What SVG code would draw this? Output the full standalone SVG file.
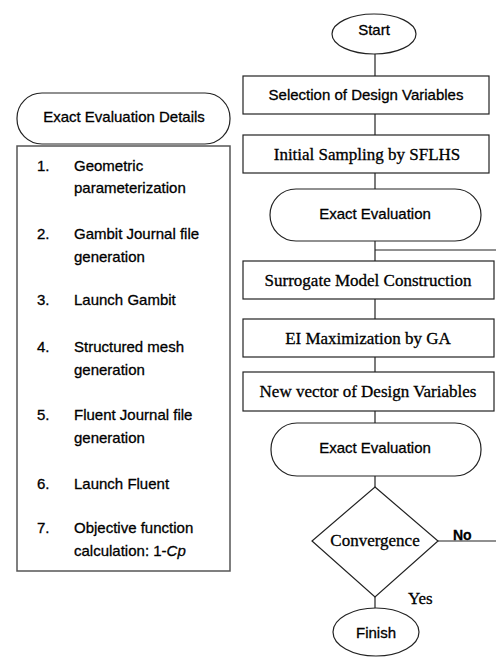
<svg xmlns="http://www.w3.org/2000/svg" width="496" height="658" viewBox="0 0 496 658">
<style>
.s{fill:#fff;stroke:#222;stroke-width:1.2}
.l{fill:none;stroke:#222;stroke-width:1.2}
.sans{font-family:"Liberation Sans",Arial,sans-serif;font-size:15px;fill:#000;stroke:#000;stroke-width:0.3}
.serif{font-family:"Liberation Serif","Times New Roman",serif;font-size:17px;fill:#000;stroke:#000;stroke-width:0.3}
.c{text-anchor:middle}
</style>
<rect width="496" height="658" fill="#fff"/>
<g id="connectors">
<line class="l" x1="375" y1="54" x2="375" y2="76"/>
<line class="l" x1="375" y1="114" x2="375" y2="135"/>
<line class="l" x1="375" y1="173" x2="375" y2="189"/>
<line class="l" x1="375" y1="241" x2="375" y2="261"/>
<line class="l" x1="375" y1="250" x2="497" y2="250"/>
<line class="l" x1="375" y1="299" x2="375" y2="319"/>
<line class="l" x1="375" y1="357" x2="375" y2="372"/>
<line class="l" x1="375" y1="411" x2="375" y2="423"/>
<line class="l" x1="375" y1="476" x2="375" y2="487"/>
<line class="l" x1="438" y1="541" x2="497" y2="541"/>
<line class="l" x1="375" y1="597" x2="375" y2="608"/>
<text class="sans" x="453" y="540" style="font-weight:bold;font-size:14px">No</text>
<text class="serif" x="408" y="604">Yes</text>
</g>
<g id="start">
<ellipse class="s" cx="374" cy="34" rx="42" ry="20"/>
<text class="sans c" x="374" y="35">Start</text>
</g>
<g id="selection">
<rect class="s" x="243" y="76" width="246" height="38"/>
<text class="sans c" x="366" y="100">Selection of Design Variables</text>
</g>
<g id="sampling">
<rect class="s" x="243" y="135" width="246" height="38"/>
<text class="serif c" x="367" y="160">Initial Sampling by SFLHS</text>
</g>
<g id="exact1">
<rect class="s" x="270" y="189" width="211" height="52" rx="26" ry="26"/>
<text class="sans c" x="375" y="219">Exact Evaluation</text>
</g>
<g id="surrogate">
<rect class="s" x="243" y="261" width="251" height="38"/>
<text class="serif c" x="368" y="286">Surrogate Model Construction</text>
</g>
<g id="ei">
<rect class="s" x="243" y="319" width="251" height="38"/>
<text class="serif c" x="368" y="344">EI Maximization by GA</text>
</g>
<g id="newvector">
<rect class="s" x="243" y="372" width="251" height="39"/>
<text class="serif c" x="368" y="397">New vector of Design Variables</text>
</g>
<g id="exact2">
<rect class="s" x="271" y="423" width="210" height="53" rx="26" ry="26"/>
<text class="sans c" x="375" y="453">Exact Evaluation</text>
</g>
<g id="convergence">
<polygon class="s" points="375,487 438,541 375,597 312,541"/>
<text class="serif c" x="375" y="546">Convergence</text>
</g>
<g id="finish">
<ellipse class="s" cx="376" cy="632" rx="43" ry="24"/>
<text class="sans c" x="376" y="638">Finish</text>
</g>
<g id="details-title">
<rect class="s" x="17" y="93" width="213" height="51" rx="25" ry="25"/>
<text class="sans c" x="124" y="122">Exact Evaluation Details</text>
</g>
<g id="details-list">
<rect x="17" y="146" width="213" height="425" fill="#fff" stroke="#555" stroke-width="1.5"/>
<g class="sans">
<text x="37" y="171">1.</text><text x="74" y="171">Geometric</text>
<text x="74" y="193">parameterization</text>
<text x="37" y="239">2.</text><text x="74" y="239">Gambit Journal file</text>
<text x="74" y="262">generation</text>
<text x="37" y="305">3.</text><text x="74" y="305">Launch Gambit</text>
<text x="37" y="352">4.</text><text x="74" y="352">Structured mesh</text>
<text x="74" y="375">generation</text>
<text x="37" y="420">5.</text><text x="74" y="420">Fluent Journal file</text>
<text x="74" y="443">generation</text>
<text x="37" y="489">6.</text><text x="74" y="489">Launch Fluent</text>
<text x="37" y="533">7.</text><text x="74" y="533">Objective function</text>
<text x="74" y="556">calculation: 1-<tspan font-style="italic">Cp</tspan></text>
</g>
</g>
</svg>
